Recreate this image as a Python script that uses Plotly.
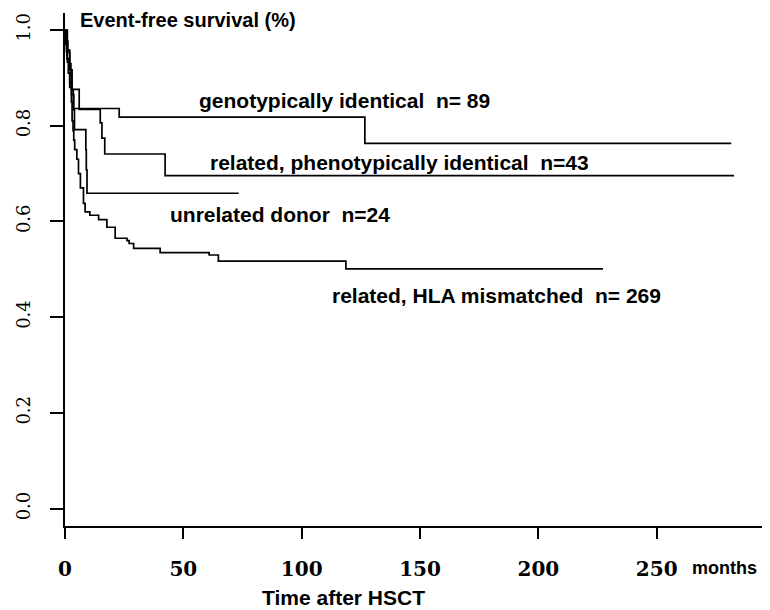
import plotly.graph_objects as go

# ---- data (months, event-free survival) ----
geno_t = [0, 0.3, 0.6, 1.0, 1.5, 2.0, 2.8, 3.7, 22.9, 126.7, 281.5]
geno_s = [1.0, 0.978, 0.955, 0.933, 0.91, 0.888, 0.865, 0.836, 0.818, 0.763, 0.763]

pheno_t = [0, 0.5, 1.2, 2.0, 2.5, 2.7, 6.0, 14.9, 15.6, 16.8, 42.3, 282.7]
pheno_s = [1.0, 0.977, 0.953, 0.93, 0.907, 0.876, 0.834, 0.806, 0.774, 0.741, 0.696, 0.696]

unrel_t = [0, 1.0, 2.0, 3.0, 3.5, 4.0, 8.8, 9.0, 9.3, 73.4]
unrel_s = [1.0, 0.958, 0.917, 0.875, 0.833, 0.792, 0.75, 0.708, 0.659, 0.659]

hla_t = [0, 0.3, 0.8, 1.5, 2.0, 2.7, 3.0, 3.4, 3.7, 4.1, 5.0, 5.7, 6.5, 7.8, 8.5,
         10.5, 14.2, 17.7, 21.2, 26.2, 27.1, 29.0, 40.2, 60.9, 64.8, 118.7, 227.3]
hla_s = [1.0, 0.97, 0.94, 0.91, 0.88, 0.85, 0.81, 0.79, 0.77, 0.75, 0.73, 0.70, 0.67, 0.638, 0.62,
         0.613, 0.604, 0.588, 0.565, 0.560, 0.554, 0.544, 0.535, 0.530, 0.517, 0.501, 0.501]

x_ticks = [0, 50, 100, 150, 200, 250]
y_ticks = [0.0, 0.2, 0.4, 0.6, 0.8, 1.0]
y_tick_text = ["0.0", "0.2", "0.4", "0.6", "0.8", "1.0"]

# page body has an 8px margin, so the figure is 8px smaller and offset
OFF = 8
W, H = 770 - OFF, 610 - OFF
L, R, T, B = 63 - OFF, 8, 13 - OFF, 84
PW, PH = W - L - R, H - T - B

def px(xp):
    return (xp - OFF - L) / PW

def py(yp):
    return (H - B - (yp - OFF)) / PH

fig = go.Figure()
for t, s in [(geno_t, geno_s), (pheno_t, pheno_s), (unrel_t, unrel_s), (hla_t, hla_s)]:
    fig.add_trace(go.Scatter(x=t, y=s, mode="lines", line=dict(shape="hv", color="black", width=1.7),
                             showlegend=False, hoverinfo="skip"))

sans = "Liberation Sans, Arial, sans-serif"

def note(text, xp, yp, size=21, xanchor="left"):
    fig.add_annotation(text=text, x=px(xp), y=py(yp), xref="paper", yref="paper",
                       xanchor=xanchor, yanchor="middle", showarrow=False, borderpad=0,
                       font=dict(family=sans, size=size, color="black", weight="bold"))

note("Event-free survival (%)", 77, 20, size=20)
note("genotypically identical  n= 89", 196, 100)
note("related, phenotypically identical  n=43", 207, 162)
note("unrelated donor  n=24", 167, 214)
note("related, HLA mismatched  n= 269", 330, 295)
note("months", 691, 568, size=18)
note("Time after HSCT", 342, 597, size=21, xanchor="center")

fig.update_layout(
    width=W, height=H,
    margin=dict(l=L, r=R, t=T, b=B, pad=0),
    paper_bgcolor="white", plot_bgcolor="white",
    xaxis=dict(range=[0, 294.5], tickvals=x_ticks, ticks="outside", ticklen=11, tickwidth=1.5,
               tickcolor="black", showline=True, linecolor="black", linewidth=1.5,
               showgrid=False, zeroline=False, ticklabelstandoff=13,
               tickfont=dict(family="DejaVu Serif, serif", size=20, color="black", weight="bold")),
    yaxis=dict(range=[-0.0361, 1.0355], tickvals=y_ticks, ticktext=y_tick_text, ticks="outside",
               ticklen=13, tickwidth=1.5, tickcolor="black", showline=True, linecolor="black",
               linewidth=1.5, showgrid=False, zeroline=False, tickangle=-90, ticklabelstandoff=13,
               tickfont=dict(family="DejaVu Serif, serif", size=18, color="black")),
)

fig.write_html("out.html")
